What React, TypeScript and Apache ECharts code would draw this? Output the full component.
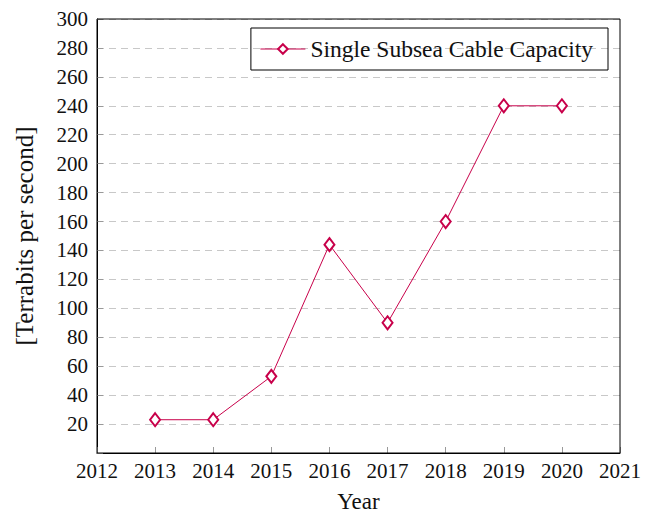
import React, { useEffect, useRef } from "react";
import * as echarts from "echarts";

const years = [2013, 2014, 2015, 2016, 2017, 2018, 2019, 2020];
const capacity = [23, 23, 53, 144, 90, 160, 240, 240];
const seriesName = "Single Subsea Cable Capacity";
const FONT = "Liberation Serif";

export default function App() {
  const ref = useRef<HTMLDivElement>(null);
  useEffect(() => {
    document.body.style.margin = "0";
    const chart = echarts.init(ref.current!, null, { renderer: "svg" });
    chart.setOption({
      animation: false,
      textStyle: { fontFamily: FONT },
      grid: {
        left: 97,
        right: 30,
        top: 19,
        bottom: 60,
        containLabel: false,
        outerBoundsMode: "none",
      },
      legend: {
        right: 42,
        top: 28,
        orient: "horizontal",
        borderColor: "#000",
        borderWidth: 1,
        borderRadius: 0,
        padding: [9, 15, 9, 9],
        itemWidth: 45,
        itemHeight: 12,
        itemGap: 6,
        itemStyle: { borderWidth: 1 },
        lineStyle: { width: 1 },
        textStyle: { fontFamily: FONT, fontSize: 23.5, color: "#111" },
        data: [seriesName],
      },
      xAxis: {
        type: "value",
        min: 2012,
        max: 2021,
        interval: 1,
        name: "Year",
        nameLocation: "middle",
        nameGap: 37,
        nameTextStyle: { fontFamily: FONT, fontSize: 23, color: "#111" },
        axisLine: { show: true, onZero: false, lineStyle: { color: "#000", width: 1 } },
        axisTick: { show: true, inside: true, length: 6, lineStyle: { color: "#999" } },
        axisLabel: {
          fontFamily: FONT,
          fontSize: 21,
          color: "#111",
          margin: 7,
          formatter: (v: number) => String(v),
        },
        splitLine: { show: false },
      },
      yAxis: {
        type: "value",
        min: 0,
        max: 300,
        interval: 20,
        name: "[Terrabits per second]",
        nameLocation: "middle",
        nameGap: 60,
        nameRotate: 90,
        nameTextStyle: { fontFamily: FONT, fontSize: 25, color: "#111" },
        axisLine: { show: true, lineStyle: { color: "#000", width: 1 } },
        axisTick: { show: true, inside: true, length: 6, lineStyle: { color: "#999" } },
        axisLabel: {
          fontFamily: FONT,
          fontSize: 21,
          color: "#111",
          margin: 9,
          formatter: (v: number) => (v === 0 ? "" : String(v)),
        },
        splitLine: { show: true, lineStyle: { color: "#c8c8c8", type: [7, 5], width: 1 } },
      },
      graphic: [
        {
          type: "rect",
          shape: { x: 97, y: 19, width: 523, height: 434 },
          style: { fill: "none", stroke: "#000", lineWidth: 1 },
          silent: true,
          z: 10,
        },
      ],
      series: [
        {
          name: seriesName,
          type: "line",
          data: years.map((y, i) => [y, capacity[i]]),
          symbol: "emptyDiamond",
          symbolSize: [10, 13],
          lineStyle: { color: "#c8004a", width: 1 },
          itemStyle: { color: "#c8004a", borderColor: "#c8004a", borderWidth: 1 },
          z: 5,
        },
      ],
    });
    return () => chart.dispose();
  }, []);
  return <div ref={ref} style={{ width: 650, height: 513 }} />;
}
